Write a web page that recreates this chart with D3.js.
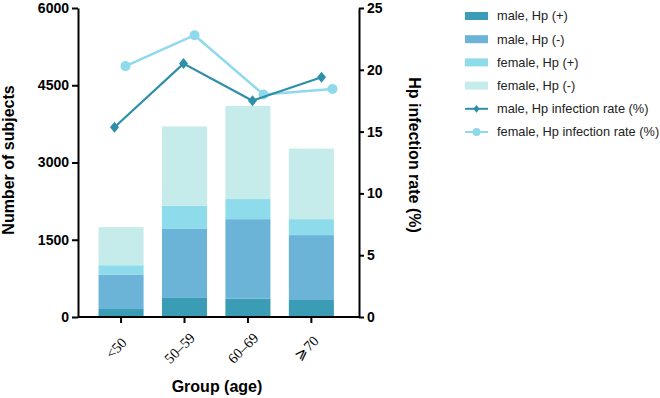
<!DOCTYPE html>
<html>
<head>
<meta charset="utf-8">
<script src="https://cdn.jsdelivr.net/npm/d3@7"></script>
<style>
  body { margin: 0; background: #fff; }
  svg { display: block; font-family: "Liberation Sans", Arial, sans-serif; }
</style>
</head>
<body>
<div id="chart"></div>
<script>
// age groups
const groups = ["<50", "50\u201359", "60\u201369", "\u2A7E70"];

// stacked bar counts (number of subjects)
const maleHpPos = [155, 370, 355, 330];
const maleHpNeg = [670, 1340, 1545, 1260];
const femaleHpPos = [180, 450, 390, 310];
const femaleHpNeg = [740, 1540, 1810, 1370];

// infection rate (%)
const maleRate = [15.35, 20.5, 17.5, 19.4];
const femaleRate = [20.3, 22.8, 18.0, 18.45];

const leftTicks = [0, 1500, 3000, 4500, 6000];
const rightTicks = [0, 5, 10, 15, 20, 25];

const seriesNames = ["male, Hp (+)", "male, Hp (-)", "female, Hp (+)", "female, Hp (-)"];
const seriesColors = ["#3b9cb6", "#6cb3d8", "#8ddbeb", "#c5ecea"];
const maleLineColor = "#2e8fa9";
const femaleLineColor = "#8ed9ec";

const width = 660, height = 398;
const svg = d3.select("#chart").append("svg")
  .attr("width", width)
  .attr("height", height);

const x0 = 78, x1 = 359, yTop = 8, yBot = 317;

const x = d3.scaleBand()
  .domain(groups)
  .range([x0, x1])
  .paddingInner(0.29)
  .paddingOuter(0.36)
  .align(0.45);

// line points sit on their own spacing
const xLine = d3.scalePoint()
  .domain(groups)
  .range([114.5, 321.5]);
const femaleShift = 11;

const yLeft = d3.scaleLinear().domain([0, 6000]).range([yBot, yTop]);
const yRight = d3.scaleLinear().domain([0, 25]).range([yBot, yTop]);

// build stacked data
const table = groups.map((g, i) => ({
  group: g,
  s0: maleHpPos[i], s1: maleHpNeg[i], s2: femaleHpPos[i], s3: femaleHpNeg[i]
}));
const stack = d3.stack().keys(["s0", "s1", "s2", "s3"]);
const layers = stack(table);

svg.append("g").selectAll("g")
  .data(layers)
  .join("g")
  .attr("fill", (d, i) => seriesColors[i])
  .selectAll("rect")
  .data(d => d)
  .join("rect")
  .attr("x", d => x(d.data.group))
  .attr("width", x.bandwidth())
  .attr("y", d => yLeft(d[1]))
  .attr("height", d => yLeft(d[0]) - yLeft(d[1]));

// rate lines
const maleLine = d3.line()
  .x((d, i) => xLine(groups[i]))
  .y(d => yRight(d));
const femaleLine = d3.line()
  .x((d, i) => xLine(groups[i]) + femaleShift)
  .y(d => yRight(d));

svg.append("path")
  .datum(femaleRate)
  .attr("fill", "none")
  .attr("stroke", femaleLineColor)
  .attr("stroke-width", 2.5)
  .attr("d", femaleLine);

svg.append("g").selectAll("circle")
  .data(femaleRate)
  .join("circle")
  .attr("cx", (d, i) => xLine(groups[i]) + femaleShift)
  .attr("cy", d => yRight(d))
  .attr("r", 5)
  .attr("fill", femaleLineColor);

svg.append("path")
  .datum(maleRate)
  .attr("fill", "none")
  .attr("stroke", maleLineColor)
  .attr("stroke-width", 2.2)
  .attr("d", maleLine);

const diamond = "M0,-5.5L4.5,0L0,5.5L-4.5,0Z";
svg.append("g").selectAll("path")
  .data(maleRate)
  .join("path")
  .attr("transform", (d, i) => `translate(${xLine(groups[i])},${yRight(d)})`)
  .attr("d", diamond)
  .attr("fill", maleLineColor);

// axes
const axisStyle = g => {
  g.select(".domain").attr("stroke", "#000").attr("stroke-width", 2);
  g.selectAll(".tick line").attr("stroke", "#000").attr("stroke-width", 2);
  g.selectAll(".tick text")
    .attr("fill", "#000")
    .style("font-family", "'Liberation Sans', Arial, sans-serif")
    .style("font-weight", "bold")
    .style("font-size", "14px");
};

svg.append("g")
  .attr("transform", `translate(${x0},0)`)
  .call(d3.axisLeft(yLeft).tickValues(leftTicks).tickFormat(d3.format("d"))
    .tickSize(6).tickSizeOuter(0).tickPadding(3))
  .call(axisStyle);

svg.append("g")
  .attr("transform", `translate(${x1},0)`)
  .call(d3.axisRight(yRight).tickValues(rightTicks).tickSize(5).tickSizeOuter(0).tickPadding(3))
  .call(axisStyle);

const xAxis = svg.append("g")
  .attr("transform", `translate(0,${yBot})`)
  .call(d3.axisBottom(x).tickSize(6).tickSizeOuter(0))
  .call(axisStyle);
xAxis.select(".domain").attr("d", `M${x0},0H${x1}`);
xAxis.selectAll(".tick text")
  .style("font-family", "'Liberation Serif', 'Times New Roman', serif")
  .style("font-weight", "normal")
  .style("font-size", "14.5px")
  .attr("text-anchor", "middle")
  .attr("dy", "0.35em")
  .attr("y", 0)
  .attr("transform", "translate(-5,31) rotate(-45)");

// axis titles
svg.append("text")
  .attr("transform", `translate(14,160) rotate(-90)`)
  .attr("text-anchor", "middle")
  .style("font-weight", "bold")
  .style("font-size", "16px")
  .text("Number of subjects");

svg.append("text")
  .attr("transform", `translate(409,155) rotate(90)`)
  .attr("text-anchor", "middle")
  .style("font-weight", "bold")
  .style("font-size", "16px")
  .text("Hp infection rate (%)");

svg.append("text")
  .attr("x", 217)
  .attr("y", 392)
  .attr("text-anchor", "middle")
  .style("font-weight", "bold")
  .style("font-size", "16px")
  .text("Group (age)");

// legend
const legend = svg.append("g").attr("transform", "translate(465,16)");
const rowH = 23.2;
seriesNames.forEach((name, i) => {
  const row = legend.append("g").attr("transform", `translate(0,${i * rowH})`);
  row.append("rect")
    .attr("x", 0).attr("y", -4).attr("width", 23).attr("height", 8)
    .attr("fill", seriesColors[i]);
  row.append("text")
    .attr("x", 32).attr("y", 0).attr("dy", "0.35em")
    .style("font-size", "12.8px").attr("fill", "#222")
    .text(name);
});

const lineLegend = [
  { name: "male, Hp infection rate (%)", color: maleLineColor, shape: "diamond" },
  { name: "female, Hp infection rate (%)", color: femaleLineColor, shape: "circle" }
];
lineLegend.forEach((d, j) => {
  const row = legend.append("g").attr("transform", `translate(0,${(4 + j) * rowH})`);
  row.append("line")
    .attr("x1", 0).attr("x2", 23).attr("y1", 0).attr("y2", 0)
    .attr("stroke", d.color).attr("stroke-width", 2);
  if (d.shape === "diamond") {
    row.append("path").attr("transform", "translate(11.5,0) scale(0.7)")
      .attr("d", diamond).attr("fill", d.color);
  } else {
    row.append("circle").attr("cx", 11.5).attr("cy", 0).attr("r", 4)
      .attr("fill", d.color);
  }
  row.append("text")
    .attr("x", 32).attr("y", 0).attr("dy", "0.35em")
    .style("font-size", "12.8px").attr("fill", "#222")
    .text(d.name);
});
</script>
</body>
</html>
